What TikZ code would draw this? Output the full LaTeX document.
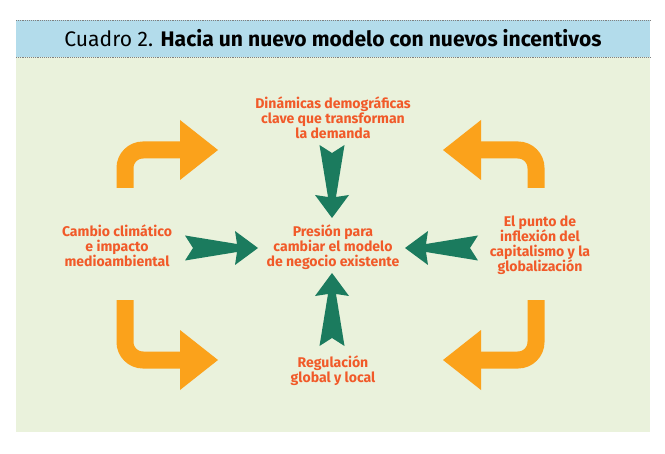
\documentclass[tikz,border=0pt]{standalone}
\usepackage{fontspec}
\setmainfont{Fira Sans}
\usetikzlibrary{positioning}
\definecolor{bggreen}{HTML}{EAF2DC}
\definecolor{bandblue}{HTML}{B3DCEB}
\definecolor{turnorange}{HTML}{FBA21B}
\definecolor{dartgreen}{HTML}{1B7B5E}
\definecolor{labelred}{HTML}{F15A29}
\begin{document}
\begin{tikzpicture}[x=0.03cm, y=-0.03cm,
    labelnode/.style={align=center, text=labelred, font=\fontsize{12}{12.8}\selectfont\bfseries},
    turnline/.style={draw=turnorange, line width=17*0.03cm, rounded corners=18*0.03cm},
    dart/.pic={\fill[dartgreen] (8,0) -- (0,-12.5) -- (52,-4) -- (50,-17) -- (73,0) -- (50,17) -- (52,4) -- (0,12.5) -- cycle;}]
  \useasboundingbox (0,0) rectangle (665,454);
  \fill[white] (0,0) rectangle (665,454);
  \fill[bggreen] (16,57) rectangle (650,432);
  \fill[bandblue] (16,20) rectangle (650,57);
  \draw[gray, densely dotted, line width=0.6pt] (16,20) -- (650,20) (16,57) -- (650,57);
  \node (title) at (333,38.5) {\fontsize{18}{20}\selectfont Cuadro 2. \textbf{Hacia un nuevo modelo con nuevos incentivos}};
  % labels
  \node[labelnode] (top) at (333,118) {Dinámicas demográficas\\clave que transforman\\la demanda};
  \node[labelnode] (center) at (333,247) {Presión para\\cambiar el modelo\\de negocio existente};
  \node[labelnode] (left) at (117,246) {Cambio climático\\e impacto\\medioambiental};
  \node[labelnode] (right) at (540,245) {El punto de\\inflexión del\\capitalismo y la\\globalización};
  \node[labelnode] (bottom) at (333,371) {Regulación\\global y local};
  % orange turns
  \draw[turnline] (125,188) -- (125,150) -- (184,150);
  \fill[turnorange] (180,120) -- (218,150) -- (180,180) -- cycle;
  \draw[turnline] (536,188) -- (536,150) -- (477,150);
  \fill[turnorange] (481,120) -- (443,150) -- (481,180) -- cycle;
  \draw[turnline] (125,300) -- (125,360) -- (184,360);
  \fill[turnorange] (180,330) -- (218,360) -- (180,390) -- cycle;
  \draw[turnline] (536,300) -- (536,360) -- (477,360);
  \fill[turnorange] (481,330) -- (443,360) -- (481,390) -- cycle;
  % green darts
  \pic[rotate=-90] at (332,145) {dart};
  \pic at (185,248) {dart};
  \pic[rotate=180] at (478,248) {dart};
  \pic[rotate=90] at (332,346) {dart};
\end{tikzpicture}
\end{document}
